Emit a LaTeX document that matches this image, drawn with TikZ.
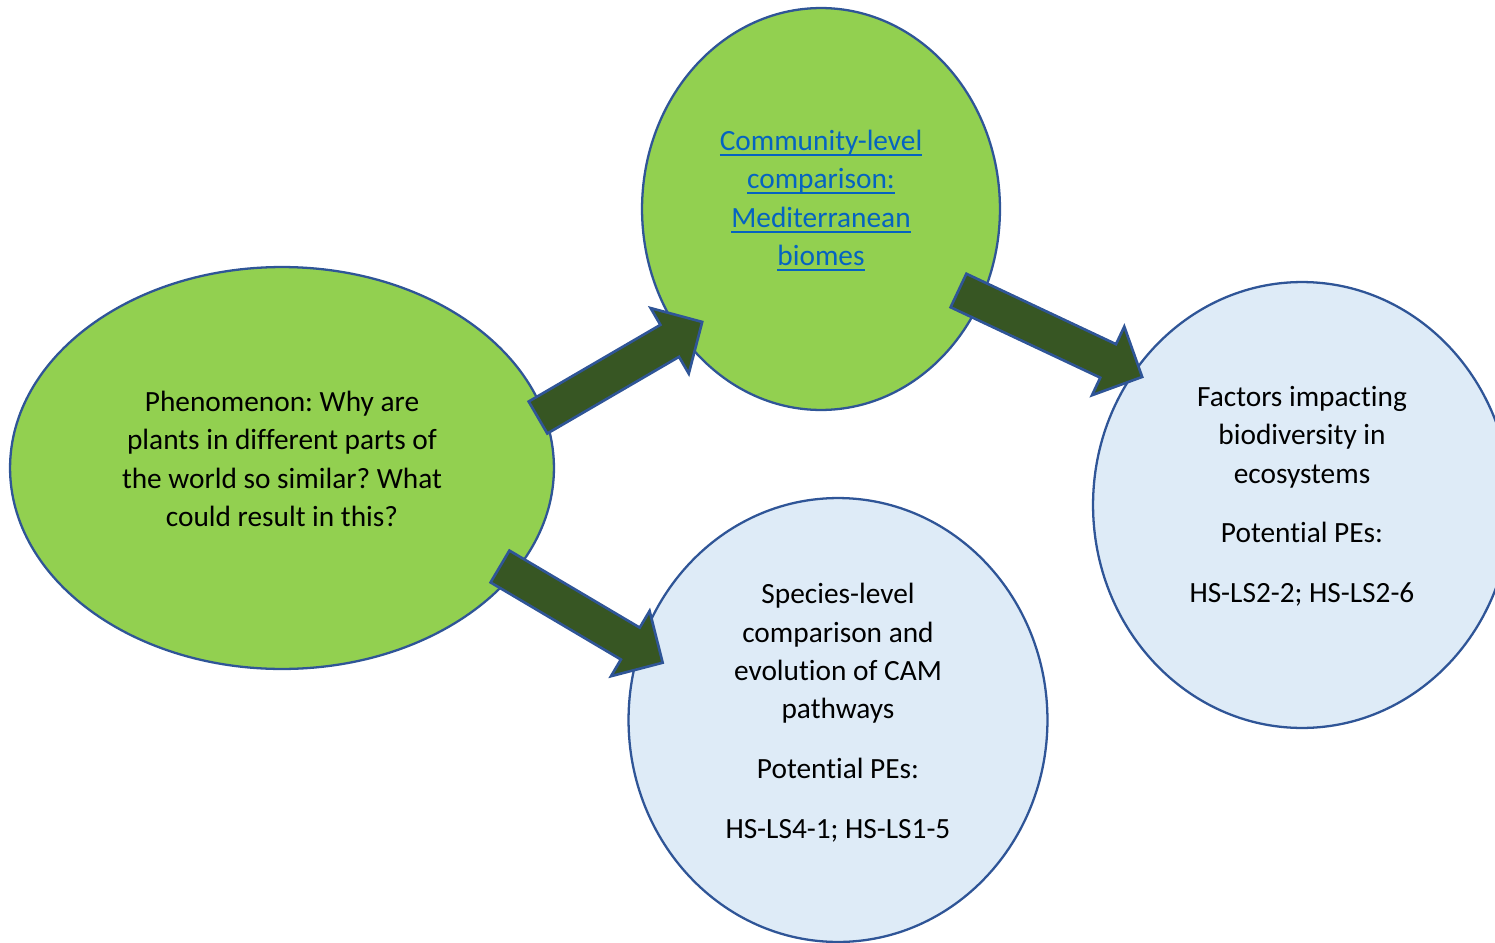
\documentclass[tikz,border=0pt]{standalone}
\usepackage{fontspec}
\setmainfont{Carlito}[Ligatures={NoCommon,NoRequired}]
\usetikzlibrary{shapes.geometric}
\definecolor{bordblue}{HTML}{2F5597}
\definecolor{lgreen}{HTML}{92D050}
\definecolor{lblue}{HTML}{DEEBF7}
\definecolor{dgreen}{HTML}{375623}
\definecolor{linkblue}{HTML}{0563C1}
\tikzset{
  bubble/.style={ellipse, draw=bordblue, line width=1.3pt, inner sep=0pt},
  greenbubble/.style={bubble, fill=lgreen},
  bluebubble/.style={bubble, fill=lblue},
  txt/.style={align=center, font=\fontsize{16.7}{21.9}\selectfont\frenchspacing, inner sep=0pt},
  blockarrow/.style={fill=dgreen, draw=bordblue, line width=1.5pt, line join=miter},
}
\newlength\lnkw
\newcommand\lnk[1]{\settowidth\lnkw{#1}\rlap{\rule[-3.2pt]{\lnkw}{1.1pt}}#1}
% #1 tail centre, #2 angle, #3 length
\newcommand{\blockarr}[3]{%
  \begin{scope}[shift={(#1)}, rotate=#2]
    \draw[blockarrow] (0,-18.5) -- (#3-37.6,-18.5) -- (#3-37.6,-37.9) -- (#3,0)
      -- (#3-37.6,37.9) -- (#3-37.6,18.5) -- (0,18.5) -- cycle;
  \end{scope}}
\begin{document}
\begin{tikzpicture}[x=0.02cm, y=-0.02cm]
\useasboundingbox (0,0) rectangle (1495,943);
\clip (0,0) rectangle (1495,943);
% bubbles
\node[greenbubble, minimum width=10.88cm, minimum height=8.04cm] (phen) at (282,468) {};
\node[greenbubble, minimum width=7.16cm, minimum height=8.04cm] (comm) at (821,209) {};
\node[bluebubble, minimum width=8.38cm, minimum height=8.88cm] (spec) at (838,720) {};
\node[bluebubble, minimum width=8.36cm, minimum height=8.92cm] (fact) at (1302,505) {};
% texts
\node[txt] (phent) at (282,459) {Phenomenon: Why are\\plants in different parts of\\the world so similar? What\\could result in this?};
\node[txt, text=linkblue] (commt) at (821,200.5) {\lnk{Community-level}\\\lnk{comparison:}\\\lnk{Mediterranean}\\\lnk{biomes}};
\node[txt] (spect) at (838,712.5) {Species-level\\comparison and\\evolution of CAM\\pathways\\[12pt]Potential PEs:\\[12pt]HS-LS4-1; HS-LS1-5};
\node[txt] (factt) at (1302,496) {Factors impacting\\biodiversity in\\ecosystems\\[12pt]Potential PEs:\\[12pt]HS-LS2-2; HS-LS2-6};
% block arrows
\coordinate (a1) at (538,417.5);
\coordinate (a2) at (500,566.5);
\coordinate (a3) at (958.5,290.5);
\blockarr{a1}{30.2}{190}
\blockarr{a2}{-30.6}{189}
\blockarr{a3}{-25.2}{203}
\end{tikzpicture}
\end{document}
